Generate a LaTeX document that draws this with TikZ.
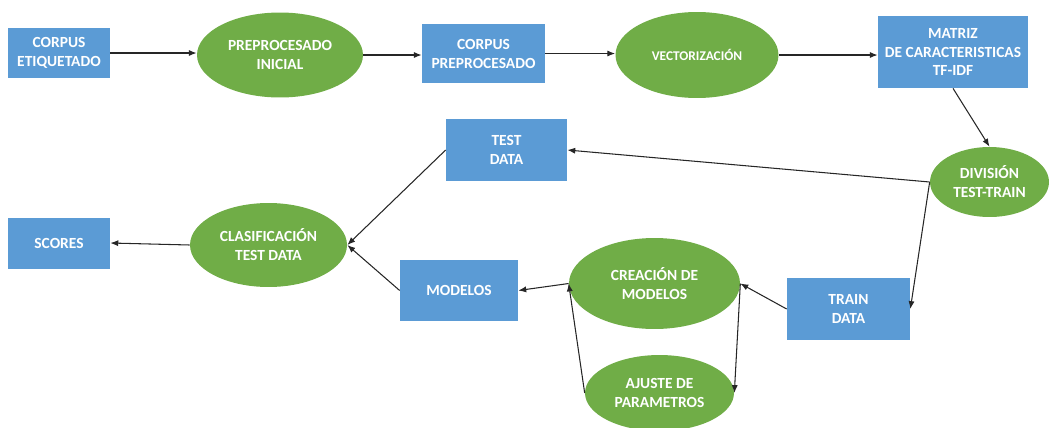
\documentclass[tikz,border=0pt]{standalone}
\usepackage{fontspec}
\setmainfont{Carlito}
\usetikzlibrary{shapes.geometric,arrows.meta}
\definecolor{cajaazul}{HTML}{5B9BD5}
\definecolor{elipseverde}{HTML}{70AD47}
\begin{document}
\begin{tikzpicture}[x=0.02cm, y=-0.02cm,
	caja/.style={rectangle, fill=cajaazul, text=white, align=center, inner sep=0pt, font=\bfseries\fontsize{8.8}{10.8}\selectfont},
	elipse/.style={ellipse, fill=elipseverde, text=white, align=center, inner sep=0pt, font=\bfseries\fontsize{8.8}{10.8}\selectfont},
	flecha/.style={-{Latex[length=4.5pt,width=3.5pt]}, line width=0.6pt, black!85}]
	\useasboundingbox (0,0) rectangle (1049,427);

	\node 	(corpus)	at	(59,53) 	[caja, minimum width=2.04cm, minimum height=1.0cm]{CORPUS\\ETIQUETADO};
	\node 	(preproc)	at	(280,55) 	[elipse, minimum width=3.32cm, minimum height=1.7cm]{PREPROCESADO\\INICIAL};
	\node 	(corpusp)	at	(483.5,53.5) 	[caja, minimum width=2.46cm, minimum height=1.18cm]{CORPUS\\PREPROCESADO};
	\node 	(vector)	at	(697,55) 	[elipse, minimum width=3.26cm, minimum height=1.72cm, font=\bfseries\fontsize{7.6}{9}\selectfont]{VECTORIZACIÓN};
	\node 	(matriz)	at	(953,52) 	[caja, minimum width=3.0cm, minimum height=1.44cm]{MATRIZ\\DE CARACTERISTICAS\\TF-IDF};

	\node 	(division)	at	(989.5,182) 	[elipse, minimum width=2.38cm, minimum height=1.4cm]{DIVISIÓN\\TEST-TRAIN};
	\node 	(testdata)	at	(506.5,150) 	[caja, minimum width=2.42cm, minimum height=1.24cm]{TEST\\DATA};
	\node 	(clasif)	at	(268.5,245) 	[elipse, minimum width=3.14cm, minimum height=1.68cm]{CLASIFICACIÓN\\TEST DATA};
	\node 	(scores)	at	(59,243) 	[caja, minimum width=2.04cm, minimum height=1.02cm]{SCORES};

	\node 	(modelos)	at	(459,290.5) 	[caja, minimum width=2.36cm, minimum height=1.22cm]{MODELOS};
	\node 	(creacion)	at	(654.5,283.5) 	[elipse, minimum width=3.42cm, minimum height=1.82cm]{CREACIÓN DE\\MODELOS};
	\node 	(train)		at	(848.5,309) 	[caja, minimum width=2.46cm, minimum height=1.24cm]{TRAIN\\DATA};
	\node 	(ajuste)	at	(659.5,393) 	[elipse, minimum width=2.98cm, minimum height=1.52cm]{AJUSTE DE\\PARAMETROS};

	\draw[flecha]	(corpus.east)	--	(corpus.east -| preproc.west);
	\draw[flecha]	(preproc.east)	--	(preproc.east -| corpusp.west);
	\draw[flecha]	(corpusp.east)	--	(corpusp.east -| vector.west);
	\draw[flecha]	(vector.east)	--	(vector.east -| matriz.west);
	\draw[flecha]	(matriz.south)	--	(division.north);

	\draw[flecha]	(division.west)	--	(testdata.east);
	\draw[flecha]	(division.west)	--	(train.east);

	\draw[flecha]	(testdata.west)	--	(clasif.east);
	\draw[flecha]	(modelos.west)	--	(clasif.east);
	\draw[flecha]	(clasif.west)	--	(scores.east);

	\draw[flecha]	(train.west)	--	(creacion.east);
	\draw[flecha]	(creacion.west)	--	(modelos.east);
	\draw[flecha]	(creacion.east)	--	(ajuste.east);
	\draw[flecha]	(ajuste.west)	--	(creacion.west);

\end{tikzpicture}
\end{document}
